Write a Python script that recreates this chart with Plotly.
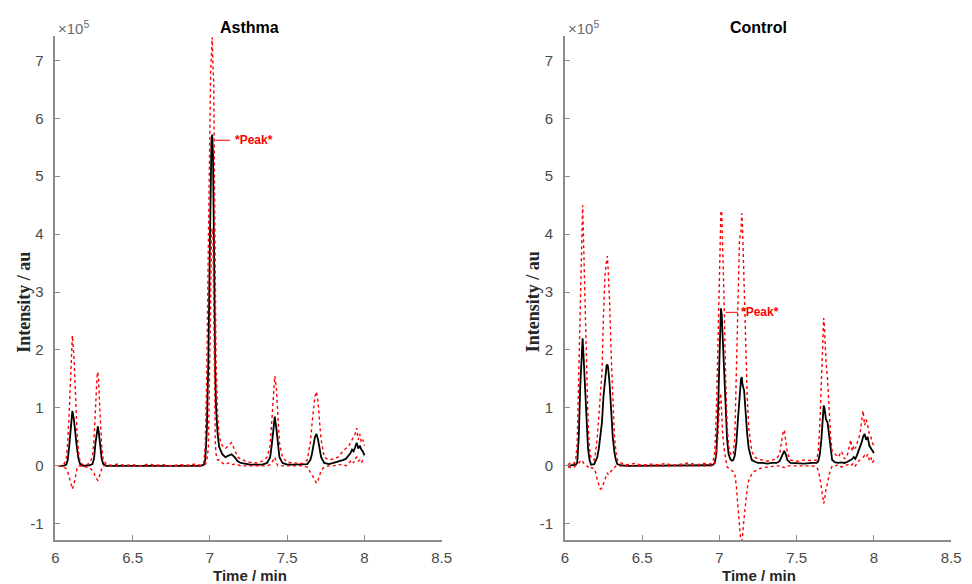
import plotly.graph_objects as go

# ---------------- data (intensity in units of 1e5) ----------------
a_time = [6.02, 6.05, 6.07, 6.08, 6.09, 6.10, 6.11, 6.12, 6.13, 6.14, 6.15, 6.16, 6.18, 6.20, 6.22, 6.24,
          6.25, 6.26, 6.27, 6.275, 6.28, 6.29, 6.30, 6.31, 6.33, 6.36, 6.40, 6.45, 6.50, 6.55, 6.60, 6.65,
          6.70, 6.75, 6.80, 6.85, 6.90, 6.94, 6.96, 6.97, 6.98, 6.99, 7.00, 7.005, 7.01, 7.015, 7.02, 7.025,
          7.03, 7.035, 7.04, 7.05, 7.06, 7.08, 7.10, 7.12, 7.14, 7.16, 7.18, 7.20, 7.23, 7.26, 7.30, 7.34,
          7.37, 7.39, 7.40, 7.41, 7.42, 7.43, 7.44, 7.45, 7.47, 7.50, 7.55, 7.60, 7.63, 7.65, 7.66, 7.67,
          7.68, 7.69, 7.70, 7.71, 7.72, 7.74, 7.77, 7.80, 7.83, 7.86, 7.88, 7.90, 7.91, 7.92, 7.93, 7.94,
          7.95, 7.96, 7.97, 7.98, 7.99, 8.00]
a_mean = [0.00, 0.00, 0.02, 0.10, 0.35, 0.70, 0.95, 0.80, 0.50, 0.30, 0.12, 0.03, 0.00, 0.00, 0.01, 0.03,
          0.12, 0.40, 0.66, 0.68, 0.60, 0.35, 0.12, 0.03, 0.00, 0.00, 0.00, 0.00, 0.00, 0.00, 0.00, 0.00,
          0.00, 0.00, 0.00, 0.00, 0.00, 0.00, 0.02, 0.10, 0.60, 1.80, 3.80, 4.90, 5.60, 5.72, 5.40, 4.20,
          2.60, 1.60, 1.00, 0.55, 0.33, 0.20, 0.15, 0.17, 0.20, 0.15, 0.08, 0.05, 0.03, 0.02, 0.02, 0.02,
          0.05, 0.15, 0.35, 0.65, 0.85, 0.65, 0.35, 0.15, 0.05, 0.02, 0.02, 0.02, 0.03, 0.10, 0.20, 0.35,
          0.50, 0.55, 0.45, 0.30, 0.15, 0.05, 0.03, 0.05, 0.07, 0.10, 0.12, 0.18, 0.22, 0.28, 0.25, 0.32,
          0.40, 0.30, 0.35, 0.28, 0.25, 0.18]
a_upper = [0.00, 0.01, 0.10, 0.40, 0.95, 1.75, 2.25, 1.90, 1.10, 0.60, 0.25, 0.06, 0.02, 0.01, 0.05, 0.15,
           0.45, 1.05, 1.55, 1.62, 1.45, 0.85, 0.35, 0.10, 0.02, 0.01, 0.03, 0.01, 0.02, 0.00, 0.03, 0.01,
           0.02, 0.00, 0.02, 0.01, 0.03, 0.01, 0.04, 0.35, 1.60, 3.80, 6.40, 6.80, 7.10, 7.40, 6.90, 6.60,
           4.80, 3.00, 1.80, 0.90, 0.50, 0.35, 0.30, 0.35, 0.40, 0.28, 0.15, 0.12, 0.08, 0.06, 0.05, 0.08,
           0.15, 0.35, 0.70, 1.20, 1.55, 1.35, 0.80, 0.40, 0.15, 0.06, 0.05, 0.04, 0.10, 0.40, 0.70, 1.00,
           1.20, 1.28, 1.10, 0.75, 0.45, 0.15, 0.10, 0.12, 0.15, 0.25, 0.30, 0.35, 0.40, 0.45, 0.50, 0.55,
           0.65, 0.45, 0.55, 0.40, 0.45, 0.35]
a_lower = [0.00, -0.01, -0.05, -0.10, -0.20, -0.32, -0.40, -0.32, -0.15, -0.05, 0.00, 0.00, -0.01, -0.02, -0.03, -0.08,
           -0.12, -0.20, -0.25, -0.25, -0.22, -0.12, -0.05, 0.00, 0.00, 0.00, 0.00, 0.00, 0.00, 0.00, 0.00, 0.00,
           0.00, 0.00, 0.00, 0.00, 0.00, 0.00, 0.00, 0.02, 0.10, 0.30, 1.60, 2.80, 4.00, 4.10, 3.90, 2.20,
           1.00, 0.40, 0.20, 0.10, 0.10, 0.05, 0.02, 0.05, 0.02, 0.03, 0.02, 0.00, 0.00, 0.00, 0.00, 0.00,
           0.00, 0.02, 0.05, 0.10, 0.15, 0.05, 0.00, 0.00, 0.00, 0.00, 0.00, 0.00, -0.02, -0.10, -0.15, -0.20,
           -0.25, -0.30, -0.25, -0.15, -0.08, -0.02, 0.00, 0.00, 0.02, 0.03, 0.00, 0.05, 0.08, 0.10, 0.05, 0.12,
           0.15, 0.08, 0.10, 0.05, 0.10, 0.05]

c_time = [6.02, 6.04, 6.06, 6.07, 6.08, 6.09, 6.10, 6.11, 6.115, 6.12, 6.13, 6.14, 6.15, 6.16, 6.17, 6.19,
          6.20, 6.21, 6.22, 6.23, 6.24, 6.25, 6.26, 6.27, 6.275, 6.28, 6.29, 6.30, 6.31, 6.32, 6.33, 6.34,
          6.36, 6.40, 6.45, 6.50, 6.55, 6.60, 6.65, 6.70, 6.75, 6.80, 6.85, 6.90, 6.94, 6.96, 6.97, 6.98,
          6.99, 7.00, 7.005, 7.01, 7.015, 7.02, 7.03, 7.04, 7.05, 7.06, 7.07, 7.08, 7.09, 7.10, 7.11, 7.12,
          7.13, 7.14, 7.145, 7.15, 7.16, 7.17, 7.18, 7.19, 7.20, 7.21, 7.23, 7.25, 7.28, 7.31, 7.34, 7.37,
          7.39, 7.40, 7.41, 7.42, 7.43, 7.44, 7.46, 7.50, 7.55, 7.60, 7.63, 7.64, 7.65, 7.66, 7.67, 7.675,
          7.68, 7.69, 7.70, 7.71, 7.72, 7.73, 7.75, 7.77, 7.79, 7.81, 7.83, 7.85, 7.86, 7.87, 7.88, 7.89,
          7.90, 7.91, 7.92, 7.93, 7.94, 7.95, 7.96, 7.97, 7.98, 7.99, 8.00]
c_mean = [0.00, 0.01, 0.01, 0.02, 0.05, 0.50, 1.40, 2.10, 2.20, 1.95, 1.30, 0.70, 0.30, 0.10, 0.02, 0.03,
          0.08, 0.15, 0.30, 0.50, 0.75, 1.20, 1.55, 1.73, 1.75, 1.70, 1.40, 0.90, 0.50, 0.25, 0.10, 0.03,
          0.01, 0.00, 0.00, 0.00, 0.00, 0.00, 0.00, 0.00, 0.00, 0.00, 0.00, 0.00, 0.01, 0.02, 0.05, 0.20,
          0.80, 1.80, 2.60, 2.72, 2.62, 2.30, 1.60, 0.90, 0.45, 0.20, 0.12, 0.09, 0.10, 0.18, 0.40, 0.80,
          1.20, 1.50, 1.53, 1.40, 1.30, 0.90, 0.55, 0.30, 0.18, 0.10, 0.07, 0.05, 0.05, 0.04, 0.05, 0.05,
          0.08, 0.15, 0.22, 0.26, 0.20, 0.10, 0.05, 0.04, 0.04, 0.05, 0.05, 0.08, 0.20, 0.45, 0.85, 1.04,
          1.00, 0.80, 0.75, 0.50, 0.25, 0.10, 0.06, 0.05, 0.06, 0.05, 0.07, 0.10, 0.12, 0.15, 0.12, 0.18,
          0.25, 0.30, 0.40, 0.50, 0.55, 0.45, 0.50, 0.35, 0.30, 0.25, 0.22]
c_upper = [0.02, 0.06, 0.04, 0.10, 0.40, 1.60, 3.20, 4.40, 4.50, 4.00, 2.80, 1.60, 0.75, 0.30, 0.12, 0.10,
           0.25, 0.50, 0.90, 1.30, 1.60, 2.60, 3.30, 3.55, 3.62, 3.40, 2.80, 1.90, 1.10, 0.55, 0.25, 0.10,
           0.05, 0.02, 0.04, 0.01, 0.03, 0.02, 0.04, 0.01, 0.03, 0.05, 0.02, 0.04, 0.03, 0.08, 0.25, 0.90,
           2.00, 3.40, 4.20, 4.40, 4.40, 4.00, 2.90, 1.60, 0.70, 0.35, 0.22, 0.18, 0.20, 0.50, 1.50, 2.80,
           3.90, 4.05, 4.36, 4.10, 3.20, 2.00, 1.20, 0.65, 0.40, 0.25, 0.15, 0.12, 0.10, 0.08, 0.10, 0.12,
           0.20, 0.35, 0.55, 0.62, 0.45, 0.22, 0.10, 0.08, 0.10, 0.09, 0.10, 0.25, 0.70, 1.40, 2.20, 2.55,
           2.40, 1.80, 1.50, 1.00, 0.50, 0.25, 0.20, 0.15, 0.25, 0.12, 0.20, 0.45, 0.25, 0.35, 0.30, 0.40,
           0.45, 0.55, 0.75, 0.95, 0.70, 0.80, 0.70, 0.55, 0.50, 0.40, 0.35]
c_lower = [-0.02, -0.03, -0.02, 0.00, 0.02, 0.05, 0.08, 0.10, 0.08, 0.05, 0.03, 0.00, -0.02, 0.00, -0.03, -0.05,
           -0.12, -0.25, -0.35, -0.40, -0.38, -0.30, -0.20, -0.15, -0.12, -0.15, -0.12, -0.08, -0.05, -0.02, 0.00, 0.00,
           0.00, 0.00, 0.00, 0.00, 0.00, 0.00, 0.00, 0.00, 0.00, 0.00, 0.00, 0.00, 0.00, 0.00, 0.05, 0.20,
           0.50, 1.00, 1.25, 1.20, 0.90, 0.60, 0.30, 0.10, -0.02, -0.04, -0.05, -0.08, -0.10, -0.15, -0.35, -0.70,
           -1.10, -1.35, -1.30, -1.20, -0.90, -0.60, -0.40, -0.25, -0.20, -0.14, -0.09, -0.06, -0.03, -0.02, 0.00, 0.00,
           0.00, 0.00, -0.02, -0.03, -0.02, 0.00, 0.00, 0.00, 0.00, 0.00, -0.02, -0.08, -0.20, -0.35, -0.55, -0.65,
           -0.60, -0.40, -0.30, -0.15, -0.05, 0.00, 0.00, 0.02, -0.02, 0.00, 0.02, 0.00, 0.03, 0.05, 0.00, 0.05,
           0.08, 0.10, 0.12, 0.15, 0.18, 0.15, 0.20, 0.10, 0.15, 0.05, 0.10]

x_ticks = [6, 6.5, 7, 7.5, 8, 8.5]
x_tick_labels = ["6", "6.5", "7", "7.5", "8", "8.5"]
y_ticks = [-1, 0, 1, 2, 3, 4, 5, 6, 7]
y_tick_labels = ["-1", "0", "1", "2", "3", "4", "5", "6", "7"]
panel_titles = ["Asthma", "Control"]

# ---------------- figure ----------------
# the page body has an 8px margin, so the figure starts at (8, 8) in the window
OX, OY = 8, 8
W, H = 972 - OX, 584 - OY


def px(xp):
    return (xp - OX) / W


def py(yp):
    return (H - (yp - OY)) / H


fig = go.Figure()

panels = [
    (a_time, a_mean, a_upper, a_lower, "x", "y"),
    (c_time, c_mean, c_upper, c_lower, "x2", "y2"),
]
for t, m, up, lo, xa, ya in panels:
    fig.add_trace(go.Scatter(x=t, y=m, mode="lines", xaxis=xa, yaxis=ya,
                             line=dict(color="black", width=1.8), showlegend=False))
    for s in (up, lo):
        fig.add_trace(go.Scatter(x=t, y=s, mode="lines", xaxis=xa, yaxis=ya,
                                 line=dict(color="#ff0000", width=1.4, dash="dot"),
                                 showlegend=False))

axcol = "#8c8c8c"
tickfont = dict(family="Liberation Sans, Arial", size=15, color="#4a4a4a")
common_x = dict(range=[6, 8.5], tickvals=x_ticks, ticktext=x_tick_labels, showline=True,
                linecolor=axcol, linewidth=1.5, ticks="inside", ticklen=5, tickcolor=axcol,
                showgrid=False, zeroline=False, tickfont=tickfont, fixedrange=True,
                ticklabelstandoff=3)
common_y = dict(range=[-1.28, 7.42], tickvals=y_ticks, ticktext=y_tick_labels, showline=True,
                linecolor=axcol, linewidth=1.5, ticks="inside", ticklen=5, tickcolor=axcol,
                showgrid=False, zeroline=False, tickfont=tickfont, fixedrange=True,
                ticklabelstandoff=7)

ydom = [py(540), py(36)]
fig.update_layout(
    width=W, height=H,
    margin=dict(l=0, r=0, t=0, b=0),
    paper_bgcolor="white", plot_bgcolor="white",
    xaxis=dict(domain=[px(52), px(444)], anchor="y", **common_x),
    xaxis2=dict(domain=[px(569), px(961)], anchor="y2", **common_x),
    yaxis=dict(domain=ydom, anchor="x", **common_y),
    yaxis2=dict(domain=ydom, anchor="x2", **common_y),
)

ann = []
for i, (x0, x1) in enumerate([(53, 445), (570, 962)]):
    xc = px((x0 + x1) / 2)
    ann.append(dict(text="<b>%s</b>" % panel_titles[i], x=xc, y=py(27), xref="paper", yref="paper",
                    xanchor="center", yanchor="middle", showarrow=False,
                    font=dict(family="Liberation Sans, Arial", size=16, color="black")))
    ann.append(dict(text="×10<sup>5</sup>", x=px(x0), y=py(27), xref="paper", yref="paper",
                    xanchor="left", yanchor="middle", showarrow=False,
                    font=dict(family="Liberation Sans, Arial", size=15, color="#6a6a6a")))
    ann.append(dict(text="<b>Time / min</b>", x=xc, y=py(575), xref="paper", yref="paper",
                    xanchor="center", yanchor="middle", showarrow=False,
                    font=dict(family="Liberation Sans, Arial", size=15, color="#262626")))
    ann.append(dict(text="<b>Intensity / au</b>", x=px(x0 - 33), y=py(302), xref="paper", yref="paper",
                    xanchor="center", yanchor="middle", textangle=-90, showarrow=False,
                    font=dict(family="Liberation Serif, Times New Roman", size=18, color="#262626")))

# "*Peak*" labels
ann.append(dict(text="<b>*Peak*</b>", x=7.15, y=5.62, xref="x", yref="y", xanchor="left",
                yanchor="middle", showarrow=False,
                font=dict(family="Liberation Sans, Arial", size=12, color="#ff0000")))
ann.append(dict(text="<b>*Peak*</b>", x=7.13, y=2.65, xref="x2", yref="y2", xanchor="left",
                yanchor="middle", showarrow=False,
                font=dict(family="Liberation Sans, Arial", size=12, color="#ff0000")))
fig.update_layout(annotations=ann)

fig.add_shape(type="line", x0=7.035, x1=7.13, y0=5.62, y1=5.62, xref="x", yref="y",
              line=dict(color="#ff0000", width=1))
fig.add_shape(type="line", x0=7.04, x1=7.12, y0=2.65, y1=2.65, xref="x2", yref="y2",
              line=dict(color="#ff0000", width=1))

fig.write_html("out.html")
